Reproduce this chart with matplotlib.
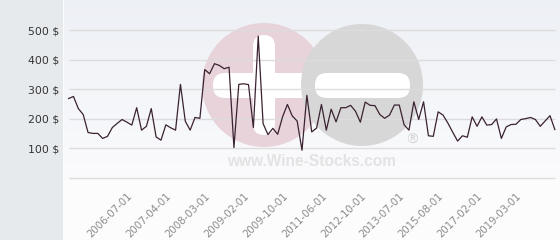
import numpy as np
import matplotlib
matplotlib.use('Agg')
import matplotlib.pyplot as plt
from matplotlib.patches import Circle, FancyBboxPatch, Rectangle
from matplotlib.transforms import Affine2D
from matplotlib.colors import LinearSegmentedColormap

# ---- data ----
prices = [269, 276, 235, 215, 154, 151, 151, 134, 141, 171,
          185, 198, 189, 179, 238, 162, 175, 235, 139, 128,
          180, 170, 162, 317, 192, 162, 205, 202, 367, 353,
          387, 381, 370, 375, 103, 317, 319, 316, 171, 480,
          184, 147, 168, 148, 207, 249, 210, 193, 94, 280,
          156, 169, 249, 162, 233, 190, 238, 238, 246, 226,
          189, 257, 246, 245, 215, 202, 213, 247, 247, 180,
          162, 258, 198, 258, 143, 141, 224, 213, 186, 155,
          125, 143, 138, 207, 175, 207, 179, 181, 200, 134,
          173, 181, 182, 198, 201, 205, 198, 175, 193, 211,
          164]
tick_index = [12, 20, 28, 36, 44, 52, 60, 68, 76, 84, 92]
tick_labels = ['2006-07-01', '2007-04-01', '2008-03-01', '2009-02-01',
               '2009-10-01', '2011-06-01', '2012-10-01', '2013-07-01',
               '2015-08-01', '2017-02-01', '2019-03-01']
y_ticks = [100, 200, 300, 400, 500]
y_labels = ['100 $', '200 $', '300 $', '400 $', '500 $']
grid_levels = [0, 100, 200, 300, 400, 500]

W, H = 560, 240
fig = plt.figure(figsize=(W / 100, H / 100), dpi=100)
fig.patch.set_facecolor('#fcfcfd')
px = Affine2D().scale(1 / W, -1 / H).translate(0, 1) + fig.transFigure

fig.patches.append(Rectangle((0, 0), 63, 240, transform=px,
                             facecolor='#e6eaed', edgecolor='none', zorder=-5))

ax = fig.add_axes([64 / W, 60 / H, (W - 64) / W, 180 / H])
ax.set_zorder(1)
x = np.arange(len(prices))
ppu = 0.2954  # pixels per unit
ax.set_xlim(-(68.6 - 64) / 4.8625, (560 - 68.6) / 4.8625)
ax.set_ylim((178 - 180) / ppu, 178 / ppu)
for s in ax.spines.values():
    s.set_visible(False)

# background gradient
cmap = LinearSegmentedColormap.from_list('bg', ['#edf0f5', '#fbfbfd'])
ax.imshow(np.linspace(0, 1, 256).reshape(-1, 1), cmap=cmap, aspect='auto',
          extent=[*ax.get_xlim(), *ax.get_ylim()], zorder=0)

# watermark
pink = '#e8d3da'
grey = '#d7d7d7'
ax.add_patch(Circle((264, 85), 62, transform=px, facecolor=pink,
                    edgecolor='none', zorder=1))
ax.add_patch(FancyBboxPatch((253, 35), 22, 100, boxstyle='round,pad=0,rounding_size=11',
                            transform=px, facecolor='white', edgecolor='none', zorder=1.1))
ax.add_patch(FancyBboxPatch((213, 73), 102, 25, boxstyle='round,pad=0,rounding_size=12',
                            transform=px, facecolor='white', edgecolor='none', zorder=1.1))
ax.add_patch(Circle((362, 85), 61, transform=px, facecolor=grey,
                    edgecolor='none', zorder=1.2))
ax.add_patch(FancyBboxPatch((315, 73), 95, 25, boxstyle='round,pad=0,rounding_size=12',
                            transform=px, facecolor='white', edgecolor='none', zorder=1.3))
ax.text(312, 161, 'www.Wine-Stocks.com', transform=px, ha='center', va='center',
        fontsize=11.2, fontweight='bold', family='Liberation Sans',
        color='#e3e3e3', zorder=1.4)
ax.text(412, 140, '\u00ae', transform=px, ha='center', va='center',
        fontsize=10, color='#d4d4d4', zorder=1.4)

ax.hlines(grid_levels, 0, len(prices) - 1, colors='#dcdcdc', lw=1, zorder=2)
ax.plot(x, prices, color='#3a2231', lw=0.9, zorder=3)

ax.set_yticks(y_ticks, y_labels)
ax.set_xticks(tick_index, tick_labels)
ax.tick_params(axis='y', length=0, pad=3.6, labelsize=7.8, labelcolor='#333333')
ax.tick_params(axis='x', length=0, pad=8, labelsize=7.3, labelcolor='#8a8a8a')
for lab in ax.get_xticklabels():
    lab.set_rotation(45)
    lab.set_ha('right')
    lab.set_rotation_mode('anchor')

fig.savefig('out.png', dpi=100)
